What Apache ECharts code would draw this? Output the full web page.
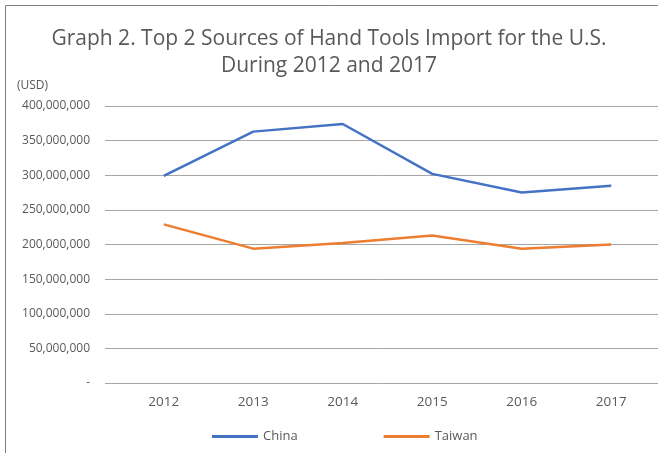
<!DOCTYPE html>
<html>
<head>
<meta charset="utf-8">
<title>Hand Tools Import</title>
<script src="https://cdn.jsdelivr.net/npm/echarts@6/dist/echarts.min.js"></script>
<style>
  html, body { margin: 0; padding: 0; background: #fff; }
  #main { width: 658px; height: 453px; }
</style>
</head>
<body>
<div id="main"></div>
<script>
// data (USD)
var years = ['2012', '2013', '2014', '2015', '2016', '2017'];
var china = [299000000, 363000000, 374000000, 302000000, 275000000, 285000000];
var taiwan = [229000000, 194000000, 202000000, 213000000, 194000000, 200000000];

var txt = '#595959';
var chart = echarts.init(document.getElementById('main'));

function fmt(v) {
  if (v === 0) return '-';
  return v.toString().replace(/\B(?=(\d{3})+(?!\d))/g, ',');
}

var option = {
  animation: false,
  backgroundColor: '#fff',
  textStyle: { fontFamily: 'Open Sans' },
  title: {
    text: 'Graph 2. Top 2 Sources of Hand Tools Import for the U.S.\nDuring 2012 and 2017',
    left: 'center',
    top: 21,
    textStyle: {
      fontFamily: 'Open Sans',
      fontWeight: 'normal',
      fontSize: 21,
      lineHeight: 27,
      color: txt
    }
  },
  graphic: [
    {
      type: 'rect',
      shape: { x: 5.5, y: 5.5, width: 700, height: 500 },
      style: { fill: 'none', stroke: '#7f7f7f', lineWidth: 1 },
      silent: true
    },
    {
      type: 'text',
      left: 17,
      top: 80,
      style: { text: '(USD)', fill: txt, font: '12px "Open Sans"' }
    }
  ],
  legend: {
    bottom: 5,
    left: 207,
    itemGap: 86,
    itemWidth: 46,
    itemHeight: 3,
    icon: 'rect',
    textStyle: { color: txt, fontSize: 13 },
    data: ['China', 'Taiwan']
  },
  // grid 0 carries the gridlines, grid 1 the categories and lines
  grid: [
    { left: 105, right: 0, top: 106, bottom: 70 },
    { left: 119, right: 2, top: 106, bottom: 70 }
  ],
  xAxis: [
    { type: 'category', gridIndex: 0, data: years, show: false },
    {
      type: 'category',
      gridIndex: 1,
      data: years,
      boundaryGap: true,
      axisLine: { show: false },
      axisTick: { show: false },
      axisLabel: { color: txt, fontSize: 13.5, margin: 12 }
    }
  ],
  yAxis: [
    {
      type: 'value',
      gridIndex: 0,
      min: 0,
      max: 400000000,
      interval: 50000000,
      axisLine: { show: false },
      axisTick: { show: false },
      axisLabel: { color: txt, fontSize: 12, margin: 15, formatter: fmt },
      splitLine: { lineStyle: { color: '#a6a6a6', width: 1 } }
    },
    {
      type: 'value',
      gridIndex: 1,
      min: 0,
      max: 400000000,
      interval: 50000000,
      show: false,
      splitLine: { show: false }
    }
  ],
  series: [
    {
      name: 'China',
      type: 'line',
      xAxisIndex: 1,
      yAxisIndex: 1,
      data: china,
      symbol: 'none',
      color: '#4472C4',
      lineStyle: { width: 2.5, color: '#4472C4' }
    },
    {
      name: 'Taiwan',
      type: 'line',
      xAxisIndex: 1,
      yAxisIndex: 1,
      data: taiwan,
      symbol: 'none',
      color: '#ED7D31',
      lineStyle: { width: 2.5, color: '#ED7D31' }
    }
  ]
};

chart.setOption(option);
</script>
</body>
</html>
